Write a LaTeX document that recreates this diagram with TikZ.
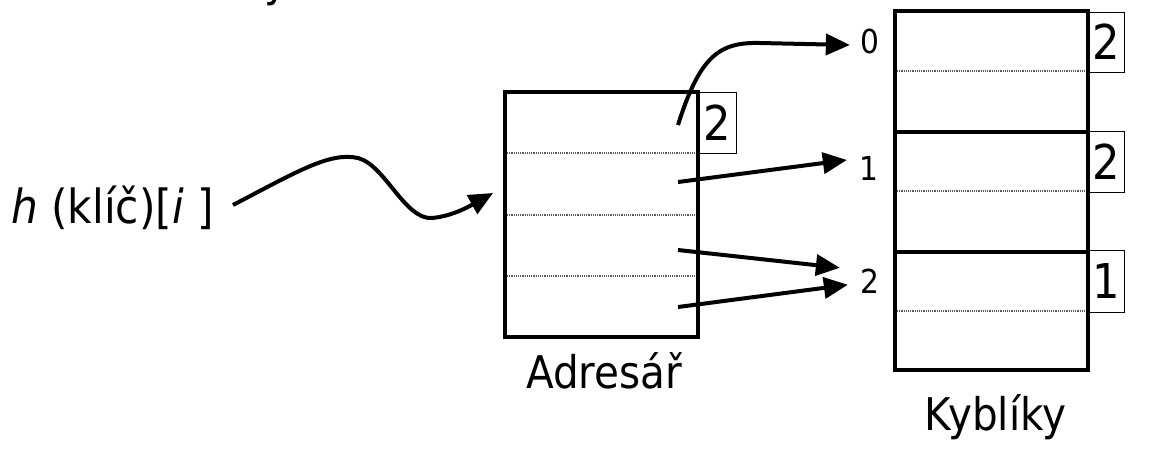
\documentclass[tikz,border=0pt]{standalone}
\usepackage{fontspec}
\setmainfont[FakeStretch=0.9]{DejaVu Sans}
\usetikzlibrary{arrows.meta}
\begin{document}
\begin{tikzpicture}[x=1pt,y=-1pt,
  thickbox/.style={draw, line width=4.2pt, rectangle, inner sep=0pt, outer sep=0pt},
  cntbox/.style={draw, line width=1pt, inner sep=0pt, minimum width=37pt, minimum height=61pt, font=\fontsize{48}{48}\selectfont},
  dotline/.style={black!65, line width=1.1pt, dash pattern=on 1.2pt off 1pt},
  arr/.style={line width=4pt, -{Triangle[length=24pt,width=21pt]}},
  lbl/.style={inner sep=0pt, anchor=base, font=\fontsize{45}{45}\selectfont},
  idx/.style={inner sep=0pt, anchor=base, font=\fontsize{33}{33}\selectfont},
]
\useasboundingbox (0,0) rectangle (1158,451);

% fragment of a title above the picture
\node[lbl] (ttl) at (276,-4) {y};

% count boxes
\node[cntbox, minimum width=38pt] (ca) at (717,122.5) {2};
\node[cntbox, minimum height=60pt] (c0) at (1106,42) {2};
\node[cntbox, minimum height=61pt] (c1) at (1106,161.5) {2};
\node[cntbox, minimum height=62pt] (c2) at (1106,281) {1};

% directory
\node[thickbox, minimum width=193pt, minimum height=245pt] (adr) at (601.5,214.5) {};
\draw[dotline] (507,153) -- (695,153);
\draw[dotline] (507,215) -- (695,215);
\draw[dotline] (507,276) -- (695,276);

% buckets
\node[thickbox, minimum width=193pt, minimum height=121pt] (k0) at (991.5,71.5) {};
\node[thickbox, minimum width=193pt, minimum height=120pt] (k1) at (991.5,192) {};
\node[thickbox, minimum width=193pt, minimum height=118pt] (k2) at (991.5,311) {};
\draw[dotline] (897,71) -- (1086,71);
\draw[dotline] (897,191) -- (1086,191);
\draw[dotline] (897,311) -- (1086,311);

% labels
\node[lbl] (adrlbl) at (604,388) {Adresář};
\node[lbl] (kyblbl) at (995.5,430) {Kyblíky};
\node[lbl, anchor=base west, font=\fontsize{47}{47}\selectfont] (hk) at (11,223) {\textit{h} (klíč)[\textit{i} ]};

\node[idx] (i0) at (870,53) {0};
\node[idx] (i1) at (869,180) {1};
\node[idx] (i2) at (870,293) {2};

% start points
\coordinate (w0) at (233,205);
\coordinate (s0) at (678,125);
\coordinate (s1) at (678,182);
\coordinate (s2) at (678,250);
\coordinate (s3) at (678,307);

% connectors
\draw[arr] (w0) .. controls (300,170) and (330,152) .. (358,158)
  .. controls (385,165) and (405,220) .. (432,218)
  .. controls (455,216) and (475,203) .. ([xshift=-12pt,yshift=21.5pt]adr.west);
\draw[arr] (s0) .. controls (700,55) and (720,42) .. (760,43) -- ([xshift=-10.5pt,yshift=-4pt]i0.west);
\draw[arr] (s1) -- ([xshift=-12.5pt,yshift=8pt]i1.west);
\draw[arr] (s2) -- ([xshift=-20.5pt,yshift=13pt]i2.west);
\draw[arr] (s3) -- ([xshift=-12.5pt,yshift=-4pt]i2.west);
\end{tikzpicture}
\end{document}
